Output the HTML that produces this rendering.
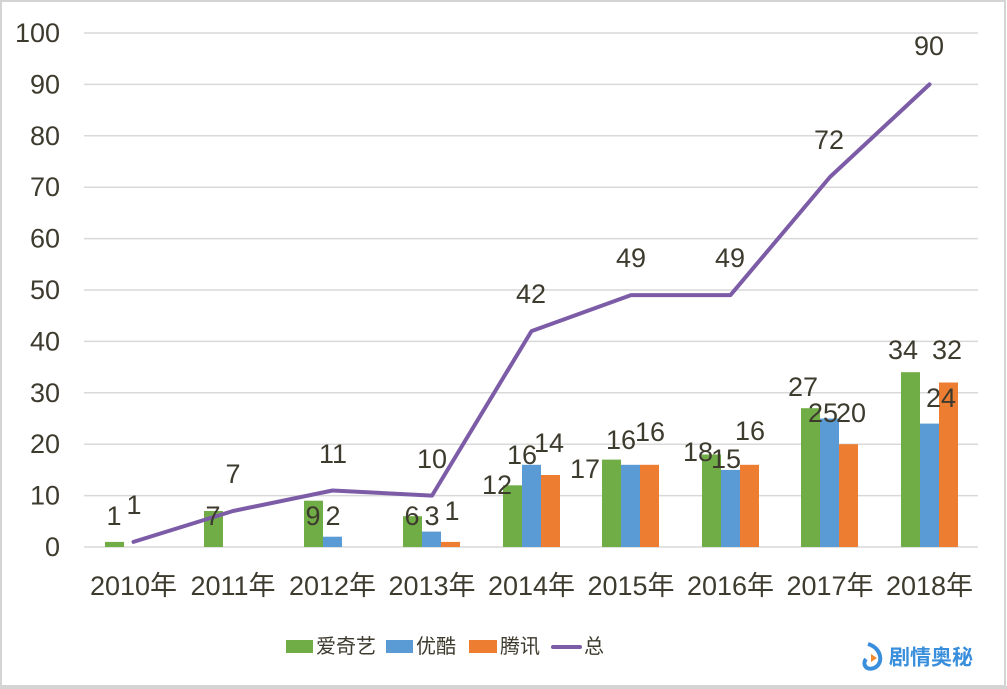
<!DOCTYPE html>
<html><head><meta charset="utf-8"><style>
html,body{margin:0;padding:0;background:#fff}
svg{display:block}
text{font-family:"Liberation Sans","Noto Sans CJK SC",sans-serif;fill:#3d3a2e;font-size:27px}
.lg{font-size:20px}
</style></head><body>
<svg width="1007" height="689" viewBox="0 0 1007 689" xmlns="http://www.w3.org/2000/svg">
<rect x="0" y="0" width="1007" height="689" fill="#fff"/>
<rect x="1" y="1" width="1004" height="685" fill="none" stroke="#d4d4d4" stroke-width="2"/>
<rect x="0" y="686" width="1007" height="3" fill="#d4d4d4"/>
<g stroke="#d9d9d9" stroke-width="1.5">
<line x1="84" x2="978" y1="33" y2="33"/><line x1="84" x2="978" y1="84.4" y2="84.4"/>
<line x1="84" x2="978" y1="135.8" y2="135.8"/><line x1="84" x2="978" y1="187.2" y2="187.2"/>
<line x1="84" x2="978" y1="238.6" y2="238.6"/><line x1="84" x2="978" y1="290" y2="290"/>
<line x1="84" x2="978" y1="341.4" y2="341.4"/><line x1="84" x2="978" y1="392.8" y2="392.8"/>
<line x1="84" x2="978" y1="444.2" y2="444.2"/><line x1="84" x2="978" y1="495.6" y2="495.6"/>
<line x1="84" x2="978" y1="547" y2="547"/>
</g>
<g text-anchor="end" dominant-baseline="central">
<text x="60" y="33">100</text><text x="60" y="84.4">90</text><text x="60" y="135.8">80</text>
<text x="60" y="187.2">70</text><text x="60" y="238.6">60</text><text x="60" y="290">50</text>
<text x="60" y="341.4">40</text><text x="60" y="392.8">30</text><text x="60" y="444.2">20</text>
<text x="60" y="495.6">10</text><text x="60" y="547">0</text>
</g>
<g fill="#70ad47">
<rect x="105" y="541.9" width="19" height="5.1"/>
<rect x="204" y="511" width="19" height="36"/>
<rect x="304" y="500.7" width="19" height="46.3"/>
<rect x="403" y="516.2" width="19" height="30.8"/>
<rect x="503" y="485.3" width="19" height="61.7"/>
<rect x="602" y="459.6" width="19" height="87.4"/>
<rect x="702" y="454.5" width="19" height="92.5"/>
<rect x="801" y="408.2" width="19" height="138.8"/>
<rect x="901" y="372.2" width="19" height="174.8"/>
</g>
<g fill="#5b9bd5">
<rect x="323" y="536.7" width="19" height="10.3"/>
<rect x="422" y="531.6" width="19" height="15.4"/>
<rect x="522" y="464.8" width="19" height="82.2"/>
<rect x="621" y="464.8" width="19" height="82.2"/>
<rect x="721" y="469.9" width="19" height="77.1"/>
<rect x="820" y="418.5" width="19" height="128.5"/>
<rect x="920" y="423.6" width="19" height="123.4"/>
</g>
<g fill="#ed7d31">
<rect x="441" y="541.9" width="19" height="5.1"/>
<rect x="541" y="475" width="19" height="72"/>
<rect x="640" y="464.8" width="19" height="82.2"/>
<rect x="740" y="464.8" width="19" height="82.2"/>
<rect x="839" y="444.2" width="19" height="102.8"/>
<rect x="939" y="382.5" width="19" height="164.5"/>
</g>
<polyline fill="none" stroke="#7c5ca6" stroke-width="4" stroke-linejoin="round" stroke-linecap="round"
points="133.5,541.9 233,511 332.5,490.5 432,495.6 531.5,331.1 631,295.1 730.5,295.1 830,177 929.5,84.4"/>
<g text-anchor="middle" dominant-baseline="central">
<text x="114" y="516">1</text><text x="134" y="505">1</text>
<text x="213" y="516">7</text><text x="233" y="474">7</text>
<text x="313" y="516">9</text><text x="333" y="516">2</text><text x="333" y="454">11</text>
<text x="412" y="516">6</text><text x="432" y="516">3</text><text x="452" y="511">1</text><text x="432" y="459">10</text>
<text x="497" y="485">12</text><text x="522" y="455">16</text><text x="549" y="443">14</text><text x="531" y="294">42</text>
<text x="585" y="469">17</text><text x="621" y="440">16</text><text x="650" y="432">16</text><text x="631" y="258">49</text>
<text x="698" y="452">18</text><text x="726" y="459">15</text><text x="750" y="431">16</text><text x="730" y="258">49</text>
<text x="803" y="387">27</text><text x="823" y="413">25</text><text x="851" y="413">20</text><text x="829" y="140">72</text>
<text x="903" y="350">34</text><text x="941" y="398">24</text><text x="947" y="350">32</text><text x="929" y="46">90</text>
</g>
<g text-anchor="middle" dominant-baseline="central">
<text x="133.5" y="586">2010年</text><text x="233" y="586">2011年</text><text x="332.5" y="586">2012年</text>
<text x="432" y="586">2013年</text><text x="531.5" y="586">2014年</text><text x="631" y="586">2015年</text>
<text x="730.5" y="586">2016年</text><text x="830" y="586">2017年</text><text x="929.5" y="586">2018年</text>
</g>
<rect x="286" y="640" width="27" height="13" fill="#70ad47"/>
<text class="lg" x="316" y="647" dominant-baseline="central">爱奇艺</text>
<rect x="386" y="640" width="27" height="13" fill="#5b9bd5"/>
<text class="lg" x="416" y="647" dominant-baseline="central">优酷</text>
<rect x="469" y="640" width="28" height="13" fill="#ed7d31"/>
<text class="lg" x="500" y="647" dominant-baseline="central">腾讯</text>
<line x1="553" x2="580" y1="647" y2="647" stroke="#7c5ca6" stroke-width="4" stroke-linecap="round"/>
<text class="lg" x="584" y="647" dominant-baseline="central">总</text>
<path d="M868,644 C882,648 884,664 874,668 C866,671 862,664 866,659" fill="none" stroke="#3a8fdc" stroke-width="4"/>
<path d="M871,654 L877,658 L871,662 Z" fill="#f08a2c"/>
<text x="889" y="658" dominant-baseline="central" style="fill:#3a8fdc;font-size:21px;font-weight:bold">剧情奥秘</text>
</svg>
</body></html>
